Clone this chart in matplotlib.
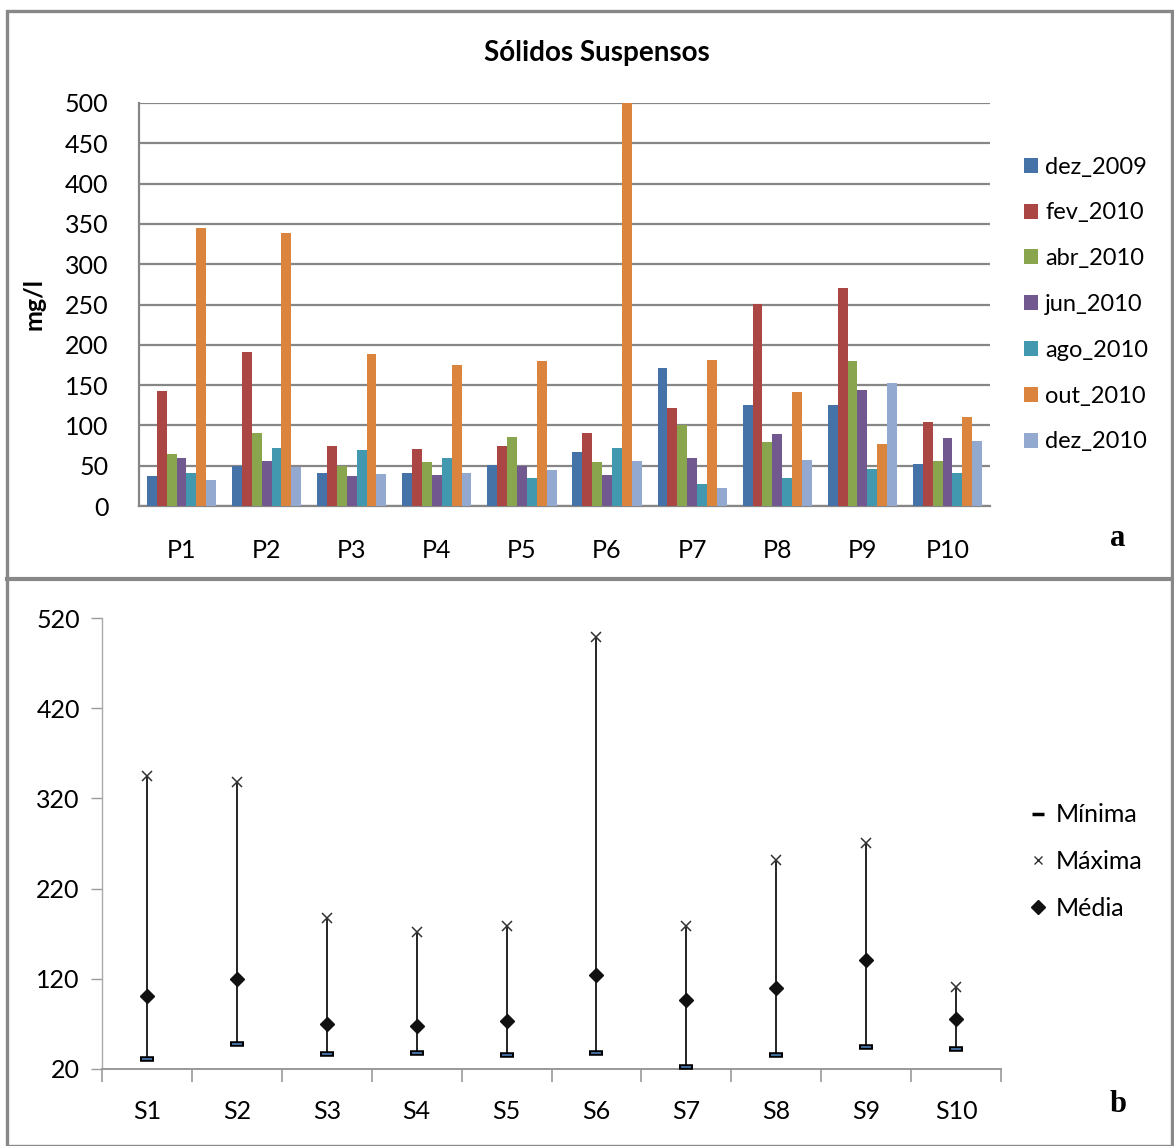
import matplotlib.pyplot as plt
from matplotlib.patches import Rectangle
from matplotlib.lines import Line2D
import numpy as np

plt.rcParams['font.family'] = ['Lato', 'DejaVu Sans']

# --- top panel data (mg/l) ---
pontos = ['P1', 'P2', 'P3', 'P4', 'P5', 'P6', 'P7', 'P8', 'P9', 'P10']
campanhas = ['dez_2009', 'fev_2010', 'abr_2010', 'jun_2010', 'ago_2010', 'out_2010', 'dez_2010']
dez_2009 = [37.5, 50, 41, 41, 51, 67.5, 171, 125, 125, 52.5]
fev_2010 = [142.5, 191, 75, 71, 74, 91, 121, 251, 271, 104]
abr_2010 = [64, 91, 50, 55, 86, 55, 100, 80, 180, 56]
jun_2010 = [60, 56, 37.5, 39, 50, 39, 60, 89, 144, 84]
ago_2010 = [41, 72.5, 69, 60, 35, 72.5, 27.5, 35, 46, 41]
out_2010 = [345, 339, 188, 175, 180, 500, 181, 141, 77.5, 111]
dez_2010 = [32.5, 49, 40, 41, 45, 56, 22.5, 57.5, 152.5, 81]
series = [dez_2009, fev_2010, abr_2010, jun_2010, ago_2010, out_2010, dez_2010]
cores = ['#4572A7', '#AA4643', '#89A54E', '#71588F', '#4198AF', '#DB843D', '#93A9CF']

# --- bottom panel data ---
estacoes = ['S1', 'S2', 'S3', 'S4', 'S5', 'S6', 'S7', 'S8', 'S9', 'S10']
minima = [31, 48, 37, 38, 35, 38, 22, 35, 44.5, 42]
maxima = [345, 338, 187, 172, 178.5, 499, 178.5, 251.5, 270.5, 111]
media = [101, 120, 70, 67.5, 73, 124, 96, 110, 141, 75]

W, H = 1174, 1146
fig = plt.figure(figsize=(W / 100, H / 100), dpi=100)

def fx(px):
    return px / W

def fy(py):
    return 1 - py / H

# frames
borda = '#888888'
fig.add_artist(Rectangle((fx(7), fy(1146)), fx(1172) - fx(7), fy(11) - fy(1146),
                         transform=fig.transFigure, fill=False, ec=borda, lw=2.4))
fig.add_artist(Line2D([fx(7), fx(1174)], [fy(579), fy(579)], transform=fig.transFigure,
                      color=borda, lw=3))

# ---------------- top chart ----------------
ax1 = fig.add_axes([fx(139), fy(506), fx(990) - fx(139), fy(103) - fy(506)])
x = np.arange(len(pontos))
n = len(series)
bw = 0.116
for i, (vals, c, lab) in enumerate(zip(series, cores, campanhas)):
    ax1.bar(x + (i - (n - 1) / 2) * bw, vals, bw, color=c, label=lab, zorder=3)
ax1.set_xlim(-0.5, len(pontos) - 0.5)
ax1.set_ylim(0, 500)
ax1.set_yticks(range(0, 501, 50))
ax1.set_xticks(x)
ax1.set_xticklabels(pontos)
ax1.tick_params(axis='both', length=0, labelsize=18)
ax1.tick_params(axis='y', pad=22)
ax1.tick_params(axis='x', pad=24)
ax1.grid(axis='y', color='#868686', lw=1.6, zorder=0)
for s in ['top', 'right']:
    ax1.spines[s].set_visible(False)
for s in ['left', 'bottom']:
    ax1.spines[s].set_color('#868686')
    ax1.spines[s].set_linewidth(1.6)
ax1.set_ylabel('mg/l', fontsize=18, fontweight='bold', labelpad=14)
fig.text(fx(597), fy(53), 'Sólidos Suspensos', fontsize=20, fontweight='bold',
         ha='center', va='center')
ax1.legend(loc='center left', bbox_to_anchor=(1.015, 0.5), frameon=False, fontsize=17,
           handlelength=0.6, handleheight=0.6, handletextpad=0.3, labelspacing=1.05)
fig.text(fx(1118), fy(538), 'a', family='Liberation Serif', fontsize=22,
         fontweight='bold', ha='center', va='center')

# ---------------- bottom chart ----------------
ax2 = fig.add_axes([fx(102), fy(1069), fx(1001) - fx(102), fy(618) - fy(1069)])
xs = np.arange(len(estacoes))
ax2.vlines(xs, minima, maxima, color='black', lw=1.2, zorder=2)
ax2.plot(xs, minima, ls='none', marker='_', ms=10, mec='black', mew=4, zorder=3)
ax2.plot(xs, minima, ls='none', marker='_', ms=7, mec='#4F81BD', mew=1.2, zorder=4)
ax2.plot(xs, maxima, ls='none', marker='x', ms=6.5, mec='#333333', mew=1.1, zorder=3)
ax2.plot(xs, media, ls='none', marker='D', ms=7.5, mfc='#111111', mec='#111111', zorder=4)
ax2.set_xlim(-0.5, len(estacoes) - 0.5)
ax2.set_ylim(20, 520)
ax2.set_yticks(range(20, 521, 100))
ax2.set_xticks(np.arange(-0.5, len(estacoes)))
ax2.set_xticklabels([])
ax2.set_xticks(xs, minor=True)
ax2.set_xticklabels(estacoes, minor=True)
ax2.tick_params(axis='x', which='major', length=9, width=1.2, color='#999999')
ax2.tick_params(axis='x', which='minor', length=0, pad=22, labelsize=18)
ax2.tick_params(axis='y', length=8, width=1, color='#999999', pad=8, labelsize=18)
for s in ['top', 'right']:
    ax2.spines[s].set_visible(False)
ax2.spines['left'].set_color('#aaaaaa')
ax2.spines['left'].set_linewidth(1)
ax2.spines['bottom'].set_color('#999999')
ax2.spines['bottom'].set_linewidth(1.4)

hmin = Line2D([], [], ls='none', marker='_', ms=9, mec='black', mew=2.5)
hmax = Line2D([], [], ls='none', marker='x', ms=5.5, mec='#333333', mew=1)
hmed = Line2D([], [], ls='none', marker='D', ms=7.5, mfc='#111111', mec='#111111')
ax2.legend([hmin, hmax, hmed], ['Mínima', 'Máxima', 'Média'], loc='center left',
           bbox_to_anchor=(1.008, 0.46), frameon=False, fontsize=18, handlelength=0.6,
           handletextpad=0.4, labelspacing=0.95)
fig.text(fx(1118), fy(1104), 'b', family='Liberation Serif', fontsize=22,
         fontweight='bold', ha='center', va='center')

fig.savefig('out.png', dpi=100)
